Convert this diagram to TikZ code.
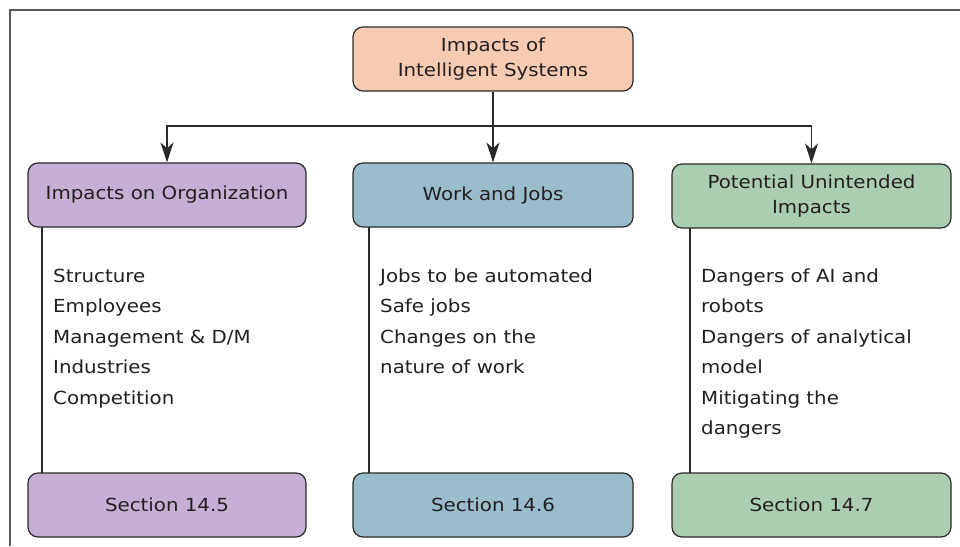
\documentclass[tikz,border=0pt]{standalone}
\usepackage{fontspec}
\setmainfont{DejaVu Sans}[FakeStretch=1.1]
\usetikzlibrary{arrows.meta}
\definecolor{txt}{HTML}{231F20}
\definecolor{cpeach}{HTML}{F6CBB2}
\definecolor{cpurple}{HTML}{C5AFD5}
\definecolor{cblue}{HTML}{9ABDCE}
\definecolor{cgreen}{HTML}{ABCEB2}
\definecolor{cline}{HTML}{2A2A2A}
\tikzset{
  box/.style={draw=cline, line width=1.2pt, rounded corners=10pt, minimum height=64pt,
    inner sep=0pt, align=center, text=txt, font={\fontsize{18}{25}\selectfont}},
  listtext/.style={anchor=base west, inner sep=0pt, align=left, text=txt,
    font={\fontsize{18}{30.5}\selectfont}},
  conn/.style={draw=cline, line width=1.5pt},
  stemline/.style={draw=cline, line width=1.8pt},
  arr/.style={conn, -{Stealth[length=20pt, width=13pt, inset=6pt]}}
}
\begin{document}
\begin{tikzpicture}[x=1pt, y=-1pt]
\useasboundingbox (0,0) rectangle (960,546);
\fill[white] (0,0) rectangle (960,546);
% outer frame
\draw[gray!70!black, line width=1.5pt] (10,546) -- (10,10) -- (960,10);

% list stems (drawn first, so the boxes cover their ends)
\coordinate (a1) at (42,220);  \coordinate (b1) at (42,480);
\coordinate (a2) at (369,220); \coordinate (b2) at (369,480);
\coordinate (a3) at (690,220); \coordinate (b3) at (690,480);
\draw[stemline] (a1) -- (b1);
\draw[stemline] (a2) -- (b2);
\draw[stemline] (a3) -- (b3);

% nodes
\node[box, fill=cpeach, minimum width=280pt] (top) at (493,59) {Impacts of\\Intelligent Systems};
\node[box, fill=cpurple, minimum width=278pt] (org) at (167,195) {Impacts on Organization};
\node[box, fill=cblue, minimum width=280pt] (work) at (493,195) {Work and Jobs};
\node[box, fill=cgreen, minimum width=279pt] (pot) at (811.5,196) {Potential Unintended\\Impacts};

\node[box, fill=cpurple, minimum width=278pt] (s1) at (167,505) {Section 14.5};
\node[box, fill=cblue, minimum width=280pt] (s2) at (493,505) {Section 14.6};
\node[box, fill=cgreen, minimum width=279pt] (s3) at (811.5,505) {Section 14.7};

% list texts (base anchor = baseline of the last line)
\node[listtext] (l1) at (53,404) {Structure\\Employees\\Management \& D/M\\Industries\\Competition};
\node[listtext] (l2) at (380,373.5) {Jobs to be automated\\Safe jobs\\Changes on the\\nature of work};
\node[listtext] (l3) at (701,434.5) {Dangers of AI and\\robots\\Dangers of analytical\\model\\Mitigating the\\dangers};

% connectors
\coordinate (bus) at (493,126);
\draw[conn] (top.south) -- (bus);
\draw[arr] (bus) -| (org.north);
\draw[arr] (bus) -- (work.north);
\draw[arr] (bus) -| (pot.north);
\end{tikzpicture}
\end{document}
